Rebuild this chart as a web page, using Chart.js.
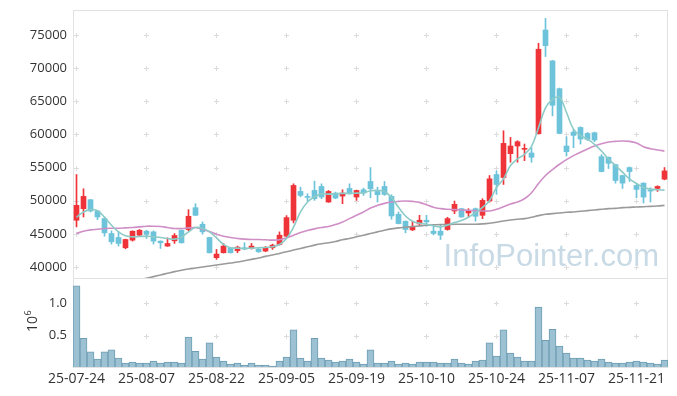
<!DOCTYPE html>
<html>
<head>
<meta charset="utf-8">
<script src="https://cdn.jsdelivr.net/npm/chart.js@4.4.0/dist/chart.umd.min.js"></script>
<style>
  html, body { margin: 0; padding: 0; background: #fff; }
  #wrap { width: 677px; height: 396px; }
</style>
</head>
<body>
<div id="wrap"><canvas id="stock-chart" width="677" height="396"></canvas></div>
<script>
// daily candles, 25-07-24 .. 25-11-27
const dates = [
  '25-07-24', '25-07-25', '25-07-28', '25-07-29', '25-07-30', '25-07-31', '25-08-01', '25-08-04', '25-08-05', '25-08-06',
  '25-08-07', '25-08-08', '25-08-11', '25-08-12', '25-08-13', '25-08-14', '25-08-18', '25-08-19', '25-08-20', '25-08-21',
  '25-08-22', '25-08-25', '25-08-26', '25-08-27', '25-08-28', '25-08-29', '25-09-01', '25-09-02', '25-09-03', '25-09-04',
  '25-09-05', '25-09-08', '25-09-09', '25-09-10', '25-09-11', '25-09-12', '25-09-15', '25-09-16', '25-09-17', '25-09-18',
  '25-09-19', '25-09-22', '25-09-23', '25-09-24', '25-09-25', '25-09-26', '25-09-29', '25-09-30', '25-10-01', '25-10-02',
  '25-10-10', '25-10-13', '25-10-14', '25-10-15', '25-10-16', '25-10-17', '25-10-20', '25-10-21', '25-10-22', '25-10-23',
  '25-10-24', '25-10-27', '25-10-28', '25-10-29', '25-10-30', '25-10-31', '25-11-03', '25-11-04', '25-11-05', '25-11-06',
  '25-11-07', '25-11-10', '25-11-11', '25-11-12', '25-11-13', '25-11-14', '25-11-17', '25-11-18', '25-11-19', '25-11-20',
  '25-11-21', '25-11-24', '25-11-25', '25-11-26', '25-11-27'
];

const opens = [
  47050, 48800, 50150, 48450, 47300, 45050, 44450, 42900, 44050, 44800,
  45400, 45300, 43900, 43150, 43950, 45550, 45650, 48950, 46450, 44450,
  41400, 42150, 42900, 42450, 42900, 42800, 42700, 42400, 42900, 43400,
  44650, 47050, 51400, 50650, 51550, 52150, 49800, 51150, 50700, 51850,
  50550, 51650, 52900, 51400, 52150, 50650, 47950, 46900, 45600, 46500,
  47050, 45400, 45400, 45650, 48450, 48800, 48150, 48800, 47800, 49950,
  53950, 53500, 57100, 58250, 57750, 57200, 60100, 75750, 71100, 66900,
  58250, 60350, 61050, 60150, 60250, 56650, 56550, 55450, 53800, 55000,
  52300, 52650, 51600, 51850, 53250
];
const highs = [
  53950, 51800, 50200, 48550, 47550, 45450, 45300, 44200, 45450, 45650,
  45550, 45450, 43950, 44400, 45050, 45600, 48650, 49550, 46800, 44500,
  42650, 43550, 42950, 43150, 43650, 43550, 42800, 43100, 43450, 45300,
  47750, 52550, 52050, 51050, 52950, 52550, 51550, 51300, 51650, 52550,
  51600, 51900, 55000, 52050, 52900, 50900, 48300, 46950, 46900, 47800,
  47800, 46150, 46300, 47500, 49950, 48850, 48800, 48900, 50300, 53800,
  54500, 60550, 59550, 59050, 58550, 58000, 73750, 77500, 71150, 67000,
  59650, 60750, 61150, 60300, 60350, 56950, 56600, 55500, 53850, 55100,
  52450, 52700, 51950, 52250, 55000
];
const lows = [
  46050, 47550, 48300, 47150, 44650, 43450, 43150, 42750, 43900, 44700,
  44300, 43450, 42800, 43100, 43550, 43600, 45450, 47750, 44950, 42100,
  41150, 42100, 42100, 42150, 42600, 42700, 42200, 42300, 42650, 43300,
  44500, 46650, 50600, 49950, 50050, 50300, 49750, 50300, 49550, 51000,
  50050, 50800, 50450, 49800, 50800, 47200, 46500, 45150, 45500, 46400,
  46150, 44850, 44150, 45550, 48050, 47500, 47550, 46900, 47300, 49800,
  50950, 52450, 55800, 55800, 56050, 55800, 60050, 71750, 62800, 60100,
  56750, 58000, 58550, 59100, 58900, 54350, 54850, 52650, 51850, 52900,
  50450, 49650, 49800, 51400, 53150
];
const closes = [
  49300, 50650, 48450, 47550, 45150, 43800, 43550, 44150, 45400, 45550,
  44950, 43900, 43650, 43550, 44750, 43650, 47650, 47800, 45300, 42150,
  41950, 43150, 42150, 43000, 42700, 43150, 42300, 42950, 43300, 44800,
  47450, 52300, 50800, 50500, 50300, 50550, 51400, 50400, 51150, 51050,
  51550, 51150, 51800, 50900, 50950, 47700, 46550, 45650, 46050, 47050,
  46800, 45050, 44800, 47300, 49450, 47550, 48450, 47650, 50050, 53300,
  52450, 58650, 58250, 58900, 57900, 56550, 72850, 73400, 64400, 60150,
  57400, 59850, 59300, 59250, 59150, 54400, 55650, 53050, 52650, 54400,
  51700, 50550, 51450, 52150, 54500
];
const volumes = [
  1270000, 460000, 250000, 140000, 250000, 280000, 155000, 77000, 93000, 77000,
  77000, 108000, 77000, 93000, 93000, 77000, 480000, 260000, 140000, 390000,
  170000, 108000, 62000, 77000, 46000, 77000, 46000, 46000, 30000, 108000,
  170000, 590000, 155000, 108000, 460000, 155000, 124000, 93000, 108000, 140000,
  93000, 62000, 280000, 77000, 77000, 108000, 62000, 77000, 62000, 93000,
  93000, 93000, 77000, 77000, 140000, 77000, 62000, 108000, 124000, 390000,
  185000, 590000, 230000, 170000, 108000, 108000, 940000, 430000, 600000, 340000,
  230000, 155000, 155000, 124000, 108000, 140000, 93000, 77000, 77000, 93000,
  108000, 93000, 77000, 62000, 124000
];

const ma5 = [
  47500, 48300, 48650, 48500, 47500, 46300, 45300, 44700, 44550, 44600,
  44650, 44550, 44450, 44300, 44200, 44500, 45300, 45950, 45800, 45300,
  44400, 43400, 42900, 42850, 42800, 42850, 42900, 42950, 43050, 43400,
  44300, 46000, 48300, 49800, 50600, 51000, 51000, 51050, 51100, 51100,
  51150, 51200, 51500, 51550, 51400, 50500, 49000, 47700, 46900, 46600,
  46450, 46200, 46050, 46300, 46700, 47000, 47500, 48200, 49000, 50000,
  52000, 53300, 55300, 56300, 57000, 58200, 61000, 64000, 65300, 65600,
  63300, 60800, 59800, 59300, 58500, 57500, 56300, 55300, 54300, 53300,
  52600, 52000, 51750, 51650, 51600
];
const ma20 = [
  45050, 45400, 45600, 45700, 45800, 45850, 45850, 45900, 45950, 46050,
  46150, 46150, 46100, 45950, 45800, 45800, 45900, 45950, 45700, 45350,
  44950, 44650, 44450, 44300, 44200, 44150, 44150, 44100, 44050, 44100,
  44400, 44800, 45200, 45500, 45750, 45950, 46100, 46400, 46800, 47300,
  47800, 48300, 48900, 49300, 49600, 49800, 49900, 49950, 49900, 49750,
  49400, 49000, 48800, 48700, 48650, 48600, 48550, 48500, 48450, 48450,
  48700, 49100, 49500, 49800, 50300, 51200, 52600, 53800, 54700, 55500,
  56200, 56800, 57300, 57800, 58250, 58600, 58850, 58950, 59000, 58950,
  58700, 58150, 57850, 57650, 57500
];
const ma60 = [
  null, null, null, null, null, null, null, null, 37900, 38100,
  38300, 38550, 38800, 39050, 39300, 39500, 39700, 39850, 40000, 40150,
  40300, 40450, 40600, 40750, 40950, 41150, 41350, 41600, 41800, 42050,
  42300, 42550, 42800, 43050, 43300, 43500, 43650, 43850, 44100, 44300,
  44550, 44800, 45050, 45300, 45550, 45750, 45900, 46000, 46100, 46200,
  46300, 46350, 46400, 46400, 46450, 46450, 46450, 46450, 46500, 46600,
  46750, 46950, 47100, 47200, 47300, 47500, 47750, 47950, 48050, 48150,
  48250, 48300, 48400, 48500, 48600, 48700, 48800, 48850, 48950, 49000,
  49050, 49100, 49150, 49200, 49300
];

const priceTicks = [40000, 45000, 50000, 55000, 60000, 65000, 70000, 75000];
const volumeTicks = [500000, 1000000];

const UP = '#ee3438';
const DOWN = '#6cc3da';
const candleColors = closes.map((c, i) => (c >= opens[i] ? UP : DOWN));

const FONT = "'Open Sans', 'Noto Sans', sans-serif";

// light frames, "+" grid marks, watermark, 10^6 exponent
const paneDecor = {
  id: 'paneDecor',
  beforeDatasetsDraw(chart) {
    const { ctx, scales: { x, y, yv } } = chart;
    ctx.save();

    ctx.font = "31px 'Liberation Sans', Arial, sans-serif";
    ctx.fillStyle = '#c8dae5';
    ctx.textAlign = 'right';
    ctx.textBaseline = 'alphabetic';
    ctx.fillText('InfoPointer.com', x.right - 9, y.bottom - 12);

    ctx.strokeStyle = '#e2e2e2';
    ctx.lineWidth = 1;
    ctx.strokeRect(x.left + 0.5, y.top + 0.5, x.right - x.left - 1, y.bottom - y.top);
    ctx.strokeRect(x.left + 0.5, yv.top + 0.5, x.right - x.left - 1, yv.bottom - yv.top);

    ctx.strokeStyle = '#dcdcdc';
    ctx.beginPath();
    [y, yv].forEach(scale => {
      scale.ticks.forEach(t => {
        const py = Math.round(scale.getPixelForValue(t.value)) + 0.5;
        for (let i = 0; i < dates.length; i += 10) {
          const px = Math.floor(x.getPixelForValue(i)) + 0.5;
          ctx.moveTo(px - 2.5, py);
          ctx.lineTo(px + 2.5, py);
          ctx.moveTo(px, py - 2.5);
          ctx.lineTo(px, py + 2.5);
        }
      });
    });
    ctx.stroke();
    ctx.restore();
  },
  afterDraw(chart) {
    const { ctx, scales: { yv } } = chart;
    ctx.save();
    ctx.translate(33, (yv.top + yv.bottom) / 2 - 1);
    ctx.rotate(-Math.PI / 2);
    ctx.fillStyle = '#333';
    ctx.textBaseline = 'middle';
    ctx.textAlign = 'left';
    ctx.font = '14px ' + FONT;
    const w = ctx.measureText('10').width;
    ctx.font = '9px ' + FONT;
    const w6 = ctx.measureText('6').width;
    const start = -(w + w6) / 2;
    ctx.font = '14px ' + FONT;
    ctx.fillText('10', start, 0);
    ctx.font = '9px ' + FONT;
    ctx.fillText('6', start + w + 0.5, -5);
    ctx.restore();
  }
};

// fixed axis boxes, no label overhang padding
function fixVertical(s) {
  s.width = 73;
  s.paddingTop = 0;
  s.paddingBottom = 0;
}

new Chart(document.getElementById('stock-chart'), {
  type: 'bar',
  data: {
    labels: dates,
    datasets: [
      {
        type: 'line', label: 'MA5', data: ma5, yAxisID: 'y', order: 0,
        borderColor: '#8ccbc7', borderWidth: 1.6, pointRadius: 0, tension: 0.4
      },
      {
        type: 'line', label: 'MA20', data: ma20, yAxisID: 'y', order: 0,
        borderColor: '#cf8fc6', borderWidth: 1.6, pointRadius: 0, tension: 0.4
      },
      {
        type: 'line', label: 'MA60', data: ma60, yAxisID: 'y', order: 0,
        borderColor: '#9a9a9a', borderWidth: 1.6, pointRadius: 0, tension: 0.4
      },
      {
        label: 'body', data: opens.map((o, i) => [o, closes[i]]), yAxisID: 'y', order: 1,
        backgroundColor: candleColors, barThickness: 5, grouped: false, borderWidth: 0
      },
      {
        label: 'wick', data: lows.map((l, i) => [l, highs[i]]), yAxisID: 'y', order: 2,
        backgroundColor: candleColors, barThickness: 1, grouped: false, borderWidth: 0
      },
      {
        label: 'volume', data: volumes, yAxisID: 'yv', order: 3,
        backgroundColor: '#9cc1d2', borderColor: '#6f9db3', borderWidth: 1,
        barPercentage: 1, categoryPercentage: 1, grouped: false
      }
    ]
  },
  options: {
    responsive: false,
    animation: false,
    layout: { padding: { top: 10, right: 9, left: 0, bottom: 0 } },
    plugins: { legend: { display: false }, tooltip: { enabled: false } },
    scales: {
      x: {
        offset: true,
        grid: { display: false, drawTicks: false },
        border: { display: false },
        ticks: {
          autoSkip: false, maxRotation: 0, padding: 4,
          color: '#333', font: { size: 14, family: FONT },
          callback: (v, i) => (i % 10 === 0 ? dates[i] : '')
        },
        afterFit: s => { s.height = 29; s.paddingLeft = 0; s.paddingRight = 0; }
      },
      yv: {
        position: 'left', stack: 'pane', stackWeight: 89, weight: 1,
        min: 17000, max: 1390000,
        grid: { display: false, drawTicks: false },
        border: { display: false },
        afterBuildTicks: s => { s.ticks = volumeTicks.map(v => ({ value: v })); },
        ticks: {
          padding: 6, color: '#333', font: { size: 13, family: FONT },
          callback: v => (v / 1e6).toFixed(1)
        },
        afterFit: fixVertical
      },
      y: {
        position: 'left', stack: 'pane', stackWeight: 268, weight: 2,
        min: 38340, max: 78770,
        grid: { display: false, drawTicks: false },
        border: { display: false },
        afterBuildTicks: s => { s.ticks = priceTicks.map(v => ({ value: v })); },
        ticks: {
          padding: 6, color: '#333', font: { size: 13, family: FONT },
          callback: v => String(v)
        },
        afterFit: fixVertical
      }
    }
  },
  plugins: [paneDecor]
});
</script>
</body>
</html>
